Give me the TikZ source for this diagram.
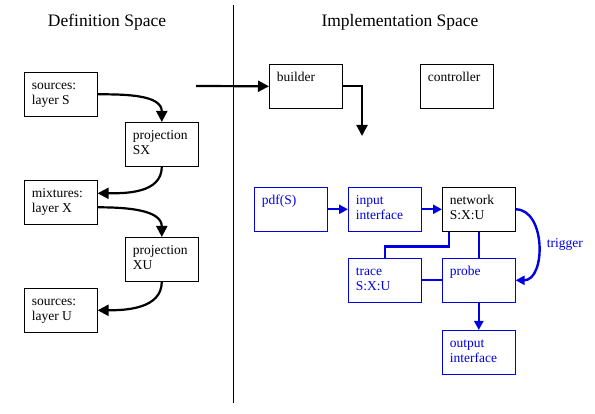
\documentclass[tikz,border=0pt]{standalone}
\usepackage{fontspec}
\setmainfont{Liberation Serif}
\usetikzlibrary{positioning,calc,arrows.meta}
\definecolor{impl}{RGB}{0,0,225}
\newcommand{\celltext}[1]{\parbox[c][32pt][t]{58pt}{\raggedright\strut #1}}
\tikzset{
  box/.style={draw, line width=.6pt, inner xsep=7.5pt, inner ysep=6pt, anchor=north west,
    font=\fontsize{13.5}{15.5}\selectfont},
  bbox/.style={box, draw=impl, text=impl},
  flow/.style={line width=2.2pt, -{Triangle[length=11pt,width=11pt]}},
  bflow/.style={impl, line width=2.4pt, -{Triangle[length=9pt,width=9pt]}},
  blink/.style={impl, line width=2.4pt},
  title/.style={font=\fontsize{17.5}{20}\selectfont}
}

\begin{document}
\begin{tikzpicture}[x=1pt,y=-1pt]
  \useasboundingbox (0,0) rectangle (595,414);
  % titles and divider
  \node[title] (defTitle) at (107,22) {Definition Space};
  \node[title] (implTitle) at (400,22) {Implementation Space};
  \coordinate (divTop) at (233,5);
  \coordinate (divBot) at (233,403);
  \draw[line width=.8pt] (divTop) -- (divBot);

  % definition space
  \node[box] (srcS) at (24,72) {\celltext{sources:\\layer S}};
  \node[box] (projSX) at (125,122) {\celltext{projection\\SX}};
  \node[box] (mixX) at (24,180) {\celltext{mixtures:\\layer X}};
  \node[box] (projXU) at (125,237) {\celltext{projection\\XU}};
  \node[box] (srcU) at (24,288) {\celltext{sources:\\layer U}};
  \draw[flow] (srcS.east) to[out=0,in=90] (projSX.north);
  \draw[flow] (projSX.south) to[out=-90,in=0] ([yshift=9pt]mixX.east);
  \draw[flow] ([yshift=-5pt]mixX.east) to[out=0,in=90] (projXU.north);
  \draw[flow] (projXU.south) to[out=-90,in=0] (srcU.east);

  % implementation space
  \node[box] (builder) at (269,64) {\celltext{builder}};
  \node[box] (controller) at (420,64) {\celltext{controller}};
  \coordinate (feed) at (196,86);
  \coordinate (drop) at (362,136);
  \draw[flow] (feed) -- (builder.west);
  \draw[flow] (builder.east) -| (drop);

  \node[bbox] (pdf) at (254,187) {\celltext{pdf(S)}};
  \node[bbox] (input) at (348,187) {\celltext{input\\interface}};
  \node[box] (network) at (442,187) {\celltext{network\\S:X:U}};
  \node[bbox] (trace) at (348,258) {\celltext{trace\\S:X:U}};
  \node[bbox] (probe) at (442,258) {\celltext{probe}};
  \node[bbox] (output) at (442,330) {\celltext{output\\interface}};
  \draw[bflow] (pdf.east) -- (input.west);
  \draw[bflow] (input.east) -- (network.west);
  \draw[blink] ([xshift=7pt]network.south west) -- ++(0,15) -| (trace.north);
  \draw[blink] (network.south) -- (probe.north);
  \draw[blink] (trace.east) -- (probe.west);
  \draw[bflow] (probe.south) -- (output.north);
  \draw[bflow] (network.east) to[out=0,in=0,looseness=1.1]
    node[right=4pt, text=impl, font=\fontsize{13.5}{15.5}\selectfont] (trigger) {trigger} (probe.east);
\end{tikzpicture}
\end{document}
